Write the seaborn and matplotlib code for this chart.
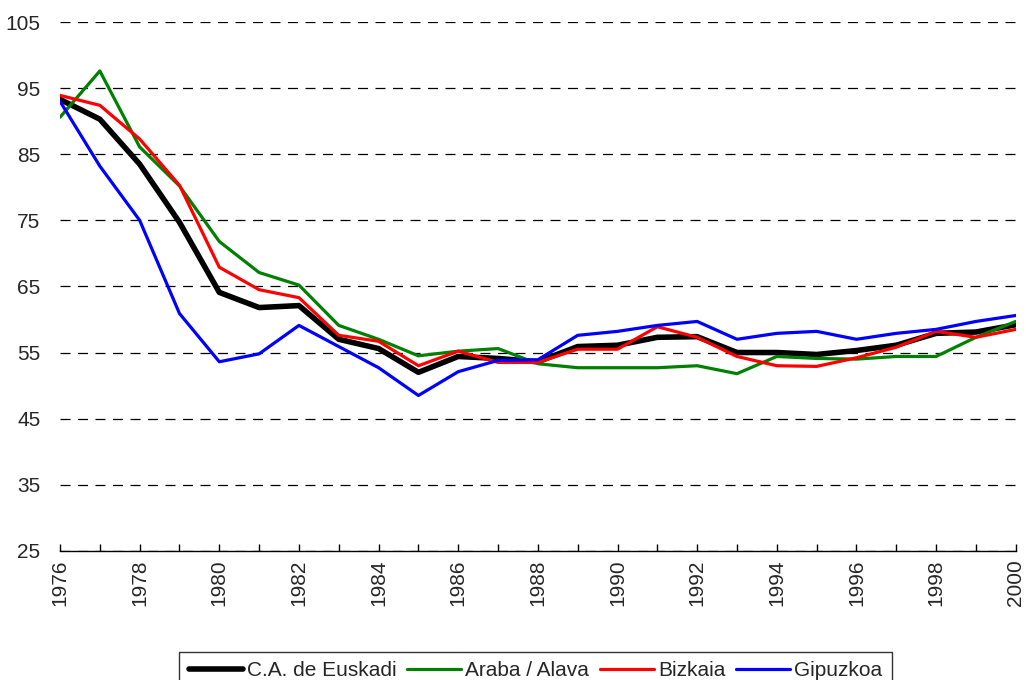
import pandas as pd
import seaborn as sns
import matplotlib.pyplot as plt

years = list(range(1976, 2001))

euskadi = [93.3, 90.3, 83.5, 74.7, 64.1, 61.8, 62.1, 57.0, 55.6, 52.0, 54.4, 54.1, 53.6,
           55.9, 56.1, 57.3, 57.4, 55.0, 55.0, 54.7, 55.3, 56.1, 57.9, 58.1, 59.2]
araba = [90.6, 97.6, 86.1, 80.2, 71.8, 67.1, 65.2, 59.1, 57.0, 54.5, 55.2, 55.6, 53.3,
         52.7, 52.7, 52.7, 53.0, 51.8, 54.4, 54.1, 54.0, 54.4, 54.4, 57.3, 59.7]
bizkaia = [93.9, 92.4, 87.3, 80.3, 67.9, 64.5, 63.3, 57.6, 56.7, 53.0, 55.2, 53.5, 53.5,
           55.5, 55.5, 58.9, 57.3, 54.4, 53.0, 52.9, 54.2, 55.8, 58.2, 57.3, 58.5]
gipuzkoa = [93.0, 83.2, 75.0, 60.9, 53.6, 54.8, 59.1, 55.9, 52.7, 48.5, 52.1, 53.8, 53.9,
            57.6, 58.2, 59.1, 59.7, 57.0, 57.9, 58.2, 57.0, 57.9, 58.5, 59.7, 60.6]

series_names = ["C.A. de Euskadi", "Araba / Alava", "Bizkaia", "Gipuzkoa"]
series_vals = [euskadi, araba, bizkaia, gipuzkoa]
colors = ["#000000", "#008000", "#ff0000", "#0000ff"]
widths = [4.0, 2.3, 2.3, 2.3]

df = pd.DataFrame({"year": years})
for name, vals in zip(series_names, series_vals):
    df[name] = vals

sns.set_style("white")
plt.rcParams["font.family"] = ["Liberation Sans", "DejaVu Sans"]

fig = plt.figure(figsize=(10.26, 6.8), dpi=100)
ax = fig.add_axes([0.0585, 0.19, 0.9315, 0.7776])

for name, c, w in zip(series_names, colors, widths):
    sns.lineplot(data=df, x="year", y=name, color=c, linewidth=w, label=name, ax=ax,
                 legend=False)

ax.set_xlim(1976, 2000)
ax.set_ylim(25, 105)
ax.set_yticks(range(25, 106, 10))
ax.set_xticks(range(1976, 2001, 1), minor=True)
ax.set_xticks(range(1976, 2001, 2))
ax.tick_params(axis="x", which="both", bottom=True, direction="in", length=5, width=1,
               color="black", pad=6)
ax.tick_params(axis="x", which="major", rotation=90, labelsize=15)
ax.tick_params(axis="y", length=0, labelsize=15, pad=14)
ax.yaxis.grid(True, color="black", linestyle=(0, (8, 6)), linewidth=0.9)
ax.xaxis.grid(False)
ax.set_xlabel("")
ax.set_ylabel("")
for s in ["top", "right", "left"]:
    ax.spines[s].set_visible(False)
ax.spines["bottom"].set_color("black")
ax.spines["bottom"].set_linewidth(1)

handles, labels = ax.get_legend_handles_labels()
leg = fig.legend(handles, labels, loc="upper center", bbox_to_anchor=(0.522, 0.057),
                 ncol=4, frameon=True, fontsize=15, handlelength=2.6, handletextpad=0.2,
                 columnspacing=0.5, borderpad=0.45, fancybox=False)
leg.get_frame().set_edgecolor("black")
leg.get_frame().set_linewidth(1)

fig.savefig("out.png", dpi=100)
